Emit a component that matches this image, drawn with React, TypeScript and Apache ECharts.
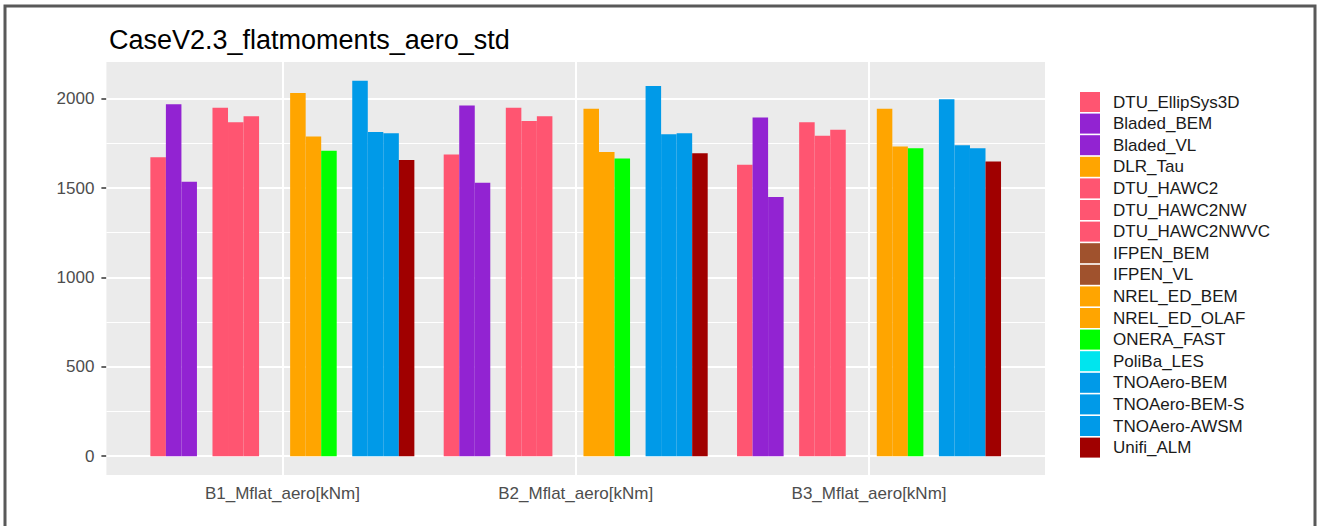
import React, { useEffect, useRef } from 'react';
import * as echarts from 'echarts';

const categories = ['B1_Mflat_aero[kNm]', 'B2_Mflat_aero[kNm]', 'B3_Mflat_aero[kNm]'];

const seriesNames = [
  'DTU_EllipSys3D', 'Bladed_BEM', 'Bladed_VL', 'DLR_Tau', 'DTU_HAWC2', 'DTU_HAWC2NW',
  'DTU_HAWC2NWVC', 'IFPEN_BEM', 'IFPEN_VL', 'NREL_ED_BEM', 'NREL_ED_OLAF', 'ONERA_FAST',
  'PoliBa_LES', 'TNOAero-BEM', 'TNOAero-BEM-S', 'TNOAero-AWSM', 'Unifi_ALM',
];

const seriesColors = [
  '#FF5571', '#9223D2', '#9223D2', '#FFA500', '#FF5571', '#FF5571',
  '#FF5571', '#A0522D', '#A0522D', '#FFA500', '#FFA500', '#00FF00',
  '#00E5EE', '#009AE8', '#009AE8', '#009AE8', '#A00000',
];

const dtuEllipSys3D = [1672, 1688, 1630];
const bladedBEM = [1969, 1962, 1895];
const bladedVL = [1535, 1529, 1450];
const dlrTau = [null, null, null];
const dtuHAWC2 = [1949, 1949, 1868];
const dtuHAWC2NW = [1868, 1875, 1793];
const dtuHAWC2NWVC = [1902, 1902, 1826];
const ifpenBEM = [null, null, null];
const ifpenVL = [null, null, null];
const nrelEDBEM = [2031, 1944, 1944];
const nrelEDOLAF = [1788, 1702, 1733];
const oneraFAST = [1709, 1665, 1723];
const polibaLES = [null, null, null];
const tnoAeroBEM = [2100, 2071, 1996];
const tnoAeroBEMS = [1813, 1801, 1740];
const tnoAeroAWSM = [1806, 1806, 1723];
const unifiALM = [1657, 1694, 1649];

const seriesValues = [
  dtuEllipSys3D, bladedBEM, bladedVL, dlrTau, dtuHAWC2, dtuHAWC2NW,
  dtuHAWC2NWVC, ifpenBEM, ifpenVL, nrelEDBEM, nrelEDOLAF, oneraFAST,
  polibaLES, tnoAeroBEM, tnoAeroBEMS, tnoAeroAWSM, unifiALM,
];

const yTicks = [0, 500, 1000, 1500, 2000];
const yMinorTicks = [250, 750, 1250, 1750];
const yMin = -105;
const yMax = 2205;

const FONT = '"Liberation Sans", Arial, sans-serif';

export default function App() {
  const ref = useRef<HTMLDivElement>(null);

  useEffect(() => {
    if (!ref.current) return;
    const chart = echarts.init(ref.current, null, { renderer: 'svg' });

    const bars = seriesNames.map((name, i) => ({
      type: 'bar',
      name,
      xAxisIndex: 1,
      yAxisIndex: 1,
      data: seriesValues[i],
      barGap: '0%',
      barCategoryGap: '10%',
      itemStyle: { color: seriesColors[i] },
      z: 3,
      silent: true,
    }));

    const hLines = [
      ...yMinorTicks.map((v) => ({ yAxis: v, lineStyle: { color: '#FFFFFF', width: 1, type: 'solid' } })),
      ...yTicks.map((v) => ({ yAxis: v, lineStyle: { color: '#FFFFFF', width: 2, type: 'solid' } })),
    ];

    const option: any = {
      animation: false,
      backgroundColor: '#ffffff',
      textStyle: { fontFamily: FONT },
      title: {
        text: 'CaseV2.3_flatmoments_aero_std',
        left: 104,
        top: 21,
        textStyle: { fontSize: 27, fontWeight: 'normal', color: '#000000', fontFamily: FONT },
      },
      legend: {
        orient: 'vertical',
        left: 1080,
        top: 92,
        padding: 0,
        itemWidth: 20,
        itemHeight: 20,
        itemGap: 1.6,
        icon: 'rect',
        data: seriesNames,
        selectedMode: false,
        textStyle: {
          fontSize: 17,
          lineHeight: 20,
          color: '#1a1a1a',
          fontFamily: FONT,
          padding: [0, 0, 0, 8],
        },
      },
      grid: [
        {
          left: 106.4,
          top: 62,
          width: 938.6,
          height: 413,
          show: true,
          backgroundColor: '#EBEBEB',
          borderWidth: 0,
        },
        {
          left: 135.7,
          top: 62,
          width: 880,
          height: 413,
        },
      ],
      xAxis: [
        { type: 'value', gridIndex: 0, min: 0, max: 1, show: false },
        {
          type: 'category',
          gridIndex: 1,
          data: categories,
          axisLine: { show: false },
          axisTick: { show: true, alignWithLabel: true, length: 5, lineStyle: { color: '#333333', width: 1.5 } },
          axisLabel: { color: '#4D4D4D', fontSize: 17, margin: 10, fontFamily: FONT },
          splitLine: { show: false },
        },
      ],
      yAxis: [
        {
          type: 'value',
          gridIndex: 0,
          min: yMin,
          max: yMax,
          axisLine: { show: false },
          axisTick: { show: true, length: 5, customValues: yTicks, lineStyle: { color: '#333333', width: 1.5 } },
          axisLabel: {
            customValues: yTicks,
            color: '#4D4D4D',
            fontSize: 17,
            margin: 12,
            fontFamily: FONT,
            formatter: (v: number) => String(v),
          },
          splitLine: { show: false },
        },
        { type: 'value', gridIndex: 1, min: yMin, max: yMax, show: false },
      ],
      graphic: [
        {
          type: 'rect',
          shape: { x: 5, y: 6, width: 1310, height: 530 },
          style: { fill: 'none', stroke: '#595959', lineWidth: 3 },
          silent: true,
        },
      ],
      series: [
        {
          type: 'line',
          name: '',
          xAxisIndex: 0,
          yAxisIndex: 0,
          data: [],
          z: 1,
          silent: true,
          markLine: {
            z: 1,
            silent: true,
            symbol: 'none',
            label: { show: false },
            data: hLines,
          },
        },
        {
          type: 'line',
          name: '',
          xAxisIndex: 1,
          yAxisIndex: 1,
          data: [null, null, null],
          z: 1,
          silent: true,
          markLine: {
            z: 1,
            silent: true,
            symbol: 'none',
            label: { show: false },
            lineStyle: { color: '#FFFFFF', width: 2, type: 'solid' },
            data: categories.map((c) => ({ xAxis: c })),
          },
        },
        ...bars,
      ],
    };

    chart.setOption(option);
    return () => chart.dispose();
  }, []);

  return (
    <div
      ref={ref}
      style={{ position: 'absolute', left: 0, top: 0, width: 1320, height: 526, background: '#fff' }}
    />
  );
}
